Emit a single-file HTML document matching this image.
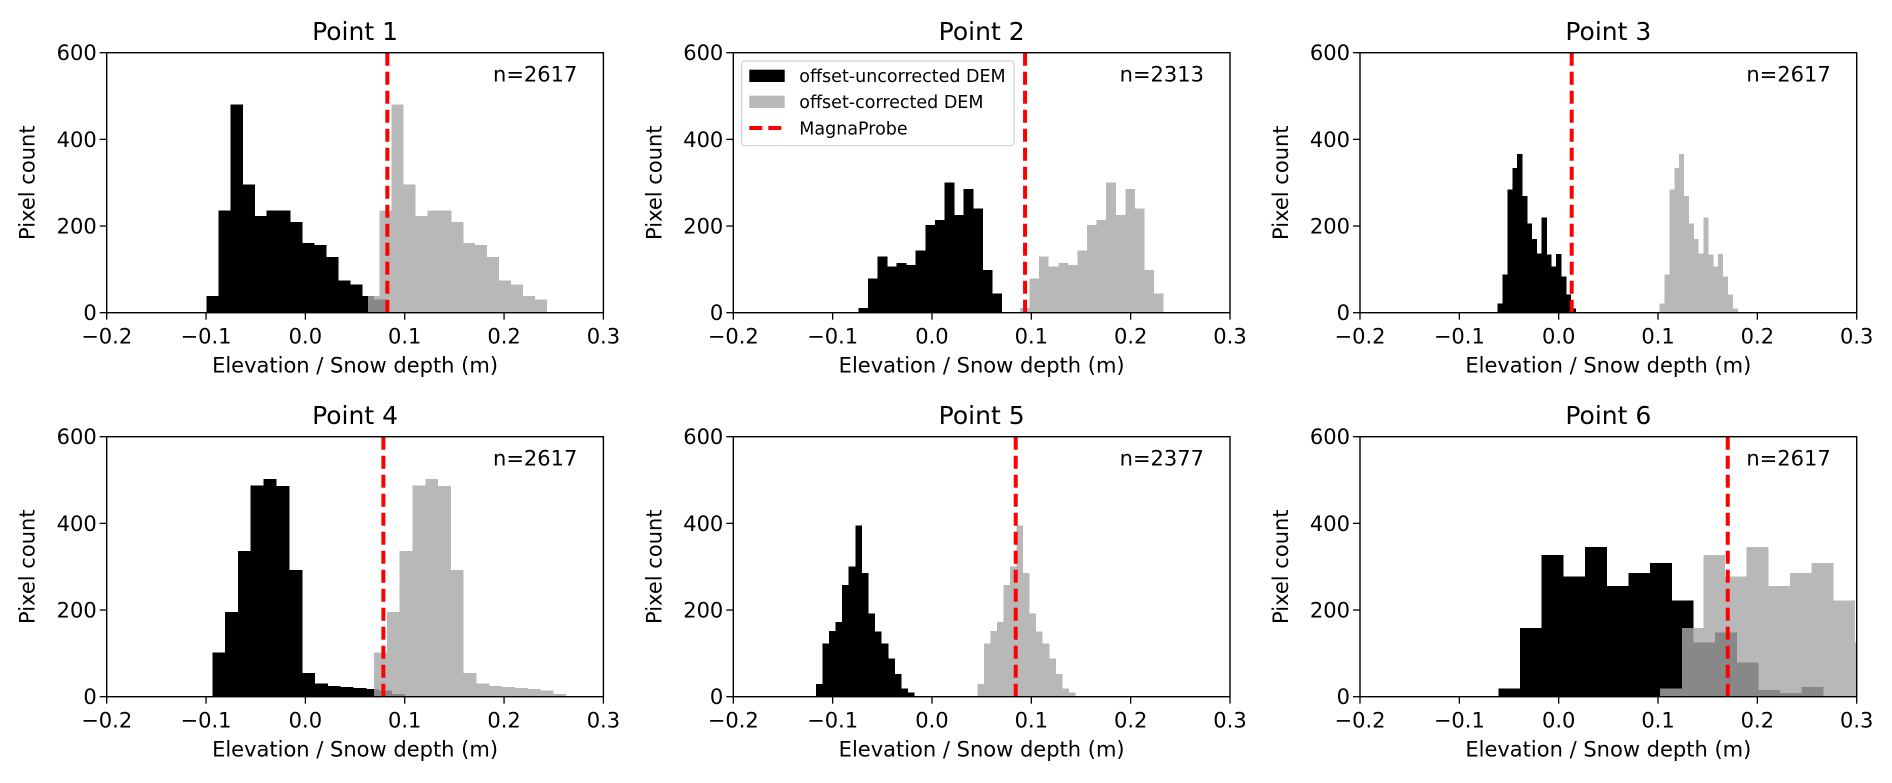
<!DOCTYPE html>
<html><head><meta charset="utf-8"><style>
html,body{margin:0;padding:0;background:#fff;}
svg{display:block;font-family:"DejaVu Sans","Liberation Sans",sans-serif;}
</style></head><body>
<svg id="fig" width="1892" height="783" viewBox="0 0 1892 783" xmlns="http://www.w3.org/2000/svg"></svg>
<script>
// ---- data ----
const panelTitles = ["Point 1","Point 2","Point 3","Point 4","Point 5","Point 6"];
const nLabels = ["n=2617","n=2313","n=2617","n=2617","n=2377","n=2617"];
const binStarts = [-0.0993, -0.0742, -0.0614, -0.0937, -0.1167, -0.0607];
const binWidths = [0.01202, 0.00964, 0.00491, 0.0129, 0.00658, 0.0218];
const offsets = [0.1621, 0.1628, 0.1631, 0.1628, 0.1624, 0.1628];
const probeDepths = [0.0825, 0.0937, 0.0131, 0.0785, 0.0843, 0.1702];
const point1Counts = [38,236,480,296,223,236,236,209,161,156,128,74,65,39,31];
const point2Counts = [11,79,130,107,115,110,143,202,214,300,226,286,241,99,44];
const point3Counts = [21,88,284,334,366,269,206,170,137,220,134,107,135,84,42,10];
const point4Counts = [102,195,336,487,502,486,292,55,31,25,22,20,18,14,6];
const point5Counts = [29,123,152,172,258,301,395,286,192,150,123,88,52,19,10];
const point6Counts = [19,158,327,277,345,256,285,308,222,125,148,79,15,8,22];
const xTicks = [-0.2,-0.1,0.0,0.1,0.2,0.3];
const xTickLabels = ["\u22120.2","\u22120.1","0.0","0.1","0.2","0.3"];
const yTicks = [0,200,400,600];
const yTickLabels = ["0","200","400","600"];
const allCounts = [point1Counts,point2Counts,point3Counts,point4Counts,point5Counts,point6Counts];

// ---- layout ----
const NS = "http://www.w3.org/2000/svg";
const svg = document.getElementById('fig');
const colLeft = [106.7, 733.3, 1360];
const rowTop = [52.7, 436.7];
const W = 496.7, H = 260;
const xMin = -0.2, xMax = 0.3, yMax = 600;

function mk(tag, attrs, parent){
  const e = document.createElementNS(NS, tag);
  for (const k in attrs) e.setAttribute(k, attrs[k]);
  (parent||svg).appendChild(e);
  return e;
}

for (let p = 0; p < 6; p++) {
  const L = colLeft[p % 3], T = rowTop[Math.floor(p / 3)], B = T + H;
  const xs = v => L + (v - xMin) / (xMax - xMin) * W;
  const ys = v => B - v / yMax * H;

  const g = mk('g', {});
  
  

  const clip = mk('clipPath', {id: 'clip' + p}, g);
  mk('rect', {x: L, y: T, width: W, height: H}, clip);

  const bars = mk('g', {'clip-path': 'url(#clip' + p + ')', 'shape-rendering': 'crispEdges'}, g);
  
  
  const counts = allCounts[p];
  counts.forEach((c, i) => {
    const x0 = binStarts[p] + i * binWidths[p];
    const r = mk('rect', {x: xs(x0), y: ys(c), width: xs(x0 + binWidths[p]) - xs(x0) + 0.3, height: ys(0) - ys(c), fill: '#000'}, bars);
    
    
  });
  counts.forEach((c, i) => {
    const x0 = binStarts[p] + offsets[p] + i * binWidths[p];
    const r = mk('rect', {x: xs(x0), y: ys(c), width: xs(x0 + binWidths[p]) - xs(x0), height: ys(0) - ys(c), fill: 'rgb(168,168,168)', 'fill-opacity': 0.81}, bars);
    
    
  });
  const pl = mk('line', {x1: xs(probeDepths[p]), x2: xs(probeDepths[p]), y1: T, y2: B, stroke: '#ff0000', 'stroke-width': 4, 'stroke-dasharray': '13,6'}, g);
  
  

  const fr = mk('rect', {x: L, y: T, width: W, height: H, fill: 'none', stroke: '#000', 'stroke-width': 1.4}, g);
  
  

  xTicks.forEach((v, i) => {
    mk('line', {x1: xs(v), x2: xs(v), y1: B, y2: B + 7, stroke: '#000', 'stroke-width': 1.3}, g);
    const t = mk('text', {x: xs(v), y: B + 31, 'font-size': 21, 'text-anchor': 'middle', fill: '#000'}, g);
    t.textContent = xTickLabels[i];
    
    
  });
  yTicks.forEach((v, i) => {
    mk('line', {x1: L - 7, x2: L, y1: ys(v), y2: ys(v), stroke: '#000', 'stroke-width': 1.3}, g);
    const t = mk('text', {x: L - 10, y: ys(v) + 7.5, 'font-size': 21, 'text-anchor': 'end', fill: '#000'}, g);
    t.textContent = yTickLabels[i];
    
    
  });
  const xl = mk('text', {x: L + W / 2, y: B + 60, 'font-size': 21, 'text-anchor': 'middle', fill: '#000'}, g);
  xl.textContent = 'Elevation / Snow depth (m)';
  
  
  const yx = L - 79, yy = T + H / 2;
  const yl = mk('text', {x: yx, y: yy, 'font-size': 21, 'text-anchor': 'middle', 'dominant-baseline': 'central', transform: 'rotate(-90 ' + yx + ' ' + yy + ')', fill: '#000'}, g);
  yl.textContent = 'Pixel count';
  
  
  const tt = mk('text', {x: L + W / 2, y: T - 12.7, 'font-size': 25, 'text-anchor': 'middle', fill: '#000'}, g);
  tt.textContent = panelTitles[p];
  
  
  const nl = mk('text', {x: L + W - 26, y: T + 29, 'font-size': 21, 'text-anchor': 'end', fill: '#000'}, g);
  nl.textContent = nLabels[p];
  
  

  if (p === 1) {
    const lg = mk('g', {}, g);
    
    
    mk('rect', {x: 741.7, y: 61, width: 272.3, height: 84.7, rx: 3, fill: '#fff', 'fill-opacity': 0.8, stroke: '#d0d0d0', 'stroke-width': 1.2}, lg);
    const entries = [['offset-uncorrected DEM', 'black'], ['offset-corrected DEM', 'grey'], ['MagnaProbe', 'line']];
    const ey = [75.7, 101.7, 128];
    entries.forEach((e, i) => {
      const eg = mk('g', {}, lg);
      
      
      if (e[1] === 'line') {
        mk('line', {x1: 749.3, x2: 784.7, y1: ey[i], y2: ey[i], stroke: '#ff0000', 'stroke-width': 4, 'stroke-dasharray': '13,6'}, eg);
      } else {
        mk('rect', {x: 749.3, y: ey[i] - 6, width: 35.4, height: 12.3, fill: e[1] === 'black' ? '#000' : '#b9b9b9'}, eg);
      }
      const t = mk('text', {x: 799.3, y: ey[i] + 6.3, 'font-size': 17.5, fill: '#000'}, eg);
      t.textContent = e[0];
    });
  }
}
</script>
</body></html>
